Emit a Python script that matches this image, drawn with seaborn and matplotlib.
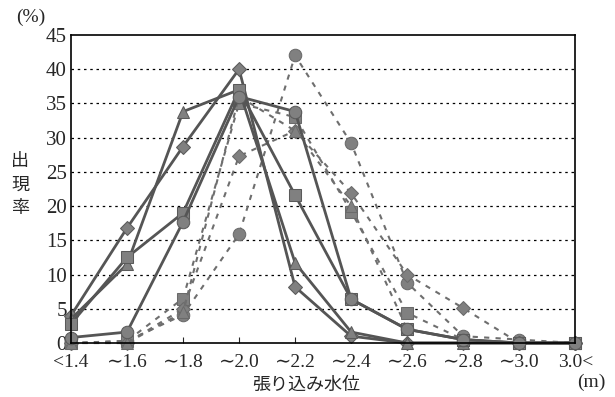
import pandas as pd
import seaborn as sns
import matplotlib.pyplot as plt

# categories on the x axis (water level)
levels = ['<1.4', '∼1.6', '∼1.8', '∼2.0', '∼2.2', '∼2.4', '∼2.6', '∼2.8', '∼3.0', '3.0<']

# solid series
solid_diamond = [4.0, 16.8, 28.7, 40.0, 8.2, 1.0, 0.0, 0.0, 0.0, 0.0]
solid_triangle = [3.5, 11.5, 33.8, 37.0, 11.7, 1.6, 0.0, 0.0, 0.0, 0.0]
solid_square = [2.8, 12.5, 19.0, 37.0, 21.6, 6.4, 2.0, 0.5, 0.0, 0.0]
solid_circle = [0.8, 1.6, 17.7, 36.0, 33.8, 6.4, 2.0, 0.5, 0.0, 0.0]

# dashed series
dash_circle = [0.0, 0.3, 4.1, 15.9, 42.0, 29.2, 8.8, 1.0, 0.5, 0.0]
dash_square = [0.0, 0.3, 6.5, 35.0, 33.0, 19.2, 4.4, 0.5, 0.0, 0.0]
dash_diamond = [0.0, 0.0, 5.0, 27.3, 31.0, 21.9, 10.0, 5.1, 0.0, 0.0]
dash_triangle = [0.0, 0.0, 4.5, 36.0, 31.0, 20.0, 2.0, 0.5, 0.0, 0.0]

solid = [(solid_diamond, 'D'), (solid_triangle, '^'), (solid_square, 's'), (solid_circle, 'o')]
dashed = [(dash_circle, 'o'), (dash_square, 's'), (dash_diamond, 'D'), (dash_triangle, '^')]

sns.set_theme(style="white")
plt.rcParams['font.family'] = ['Liberation Serif', 'DejaVu Serif', 'Noto Sans CJK JP']

fig = plt.figure(figsize=(6.15, 3.97), dpi=100)
ax = fig.add_axes([0.1154, 0.136, 0.82, 0.776])

marker_size = {'D': 7, '^': 8, 's': 8, 'o': 9}

for vals, m in dashed:
    sns.lineplot(x=levels, y=vals, sort=False, ax=ax, color='#6e6e6e', linewidth=1.5,
                 linestyle=(0, (2.5, 3)), marker=m, markersize=marker_size[m],
                 markerfacecolor='#808080', markeredgecolor='#6a6a6a', clip_on=False)

for vals, m in solid:
    sns.lineplot(x=levels, y=vals, sort=False, ax=ax, color='#555555', linewidth=2.0,
                 marker=m, markersize=marker_size[m],
                 markerfacecolor='#808080', markeredgecolor='#5a5a5a', clip_on=False)

ax.set_xlim(0, 9)
ax.set_ylim(0, 45)
ax.set_yticks(range(0, 50, 5))
for y in range(5, 45, 5):
    ax.axhline(y, color='black', linestyle=(0, (2, 3)), linewidth=0.9, zorder=0)

for s in ax.spines.values():
    s.set_color('black')
    s.set_linewidth(1.2)

ax.tick_params(axis='x', direction='in', length=4, width=0.8, labelsize=14, pad=8, bottom=True)
ax.tick_params(axis='y', length=0, labelsize=15, pad=3)

ax.set_xlabel('')
ax.set_ylabel('')
fig.text(0.498, 0.008, '張り込み水位', ha='center', va='bottom', fontsize=13,
         family=['Noto Sans CJK JP'])
fig.text(0.962, 0.015, '(m)', ha='center', va='bottom', fontsize=14)
fig.text(0.05, 0.935, '(%)', ha='center', va='bottom', fontsize=14)
fig.text(0.033, 0.535, '出\n現\n率', ha='center', va='center', fontsize=13,
         linespacing=1.4, family=['Noto Sans CJK JP'])

plt.savefig('out.png', dpi=100)
